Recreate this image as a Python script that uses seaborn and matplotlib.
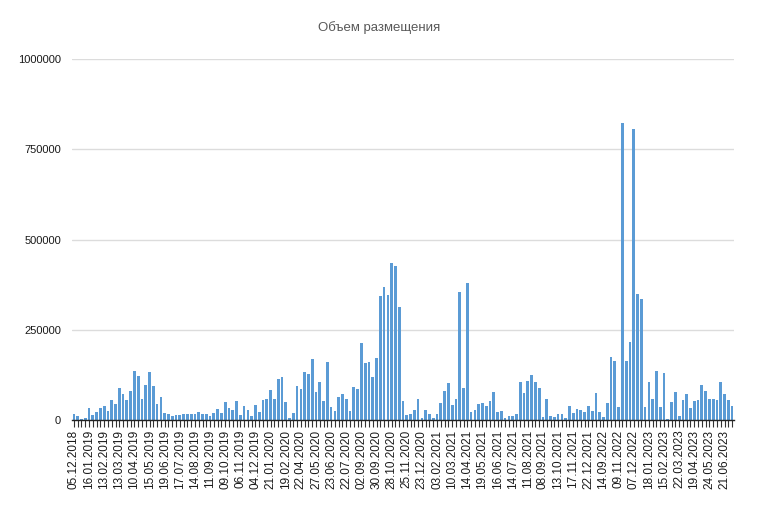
import matplotlib
matplotlib.use("Agg")
import matplotlib.pyplot as plt
import seaborn as sns
import pandas as pd

title = "Объем размещения"

values = [
    17000, 12000, 3000, 5000, 34000, 14000, 22000, 34000, 39000, 25000,
    55000, 43000, 90000, 71000, 55000, 81000, 135000, 121000, 57000, 97000,
    132000, 94000, 43000, 65000, 19000, 17000, 12000, 14000, 14000, 16000,
    16000, 16000, 16000, 22000, 17000, 17000, 11000, 19000, 30000, 19000,
    50000, 33000, 28000, 53000, 14000, 39000, 28000, 11000, 42000, 22000,
    55000, 58000, 83000, 58000, 114000, 119000, 50000, 6000, 19000, 94000,
    85000, 132000, 127000, 168000, 78000, 105000, 53000, 160000, 36000, 25000,
    63000, 71000, 57000, 26000, 91000, 85000, 212000, 157000, 162000, 118000,
    172000, 343000, 369000, 346000, 434000, 427000, 312000, 54000, 15000, 17000,
    28000, 57000, 6000, 28000, 17000, 6000, 17000, 46000, 79000, 103000,
    41000, 57000, 354000, 90000, 380000, 23000, 28000, 43000, 46000, 38000,
    53000, 78000, 23000, 25000, 6000, 12000, 12000, 17000, 105000, 74000,
    108000, 124000, 104000, 90000, 9000, 59000, 12000, 7000, 17000, 17000,
    5000, 38000, 20000, 30000, 28000, 23000, 38000, 25000, 74000, 23000,
    7000, 46000, 174000, 163000, 37000, 822000, 163000, 217000, 806000, 348000,
    336000, 37000, 104000, 59000, 137000, 37000, 131000, 4000, 49000, 78000,
    11000, 56000, 73000, 32000, 52000, 56000, 97000, 80000, 59000, 59000,
    56000, 104000, 73000, 56000, 40000,
]

date_labels = [
    "05.12.2018", "16.01.2019", "13.02.2019", "13.03.2019", "10.04.2019",
    "15.05.2019", "19.06.2019", "17.07.2019", "14.08.2019", "11.09.2019",
    "09.10.2019", "06.11.2019", "04.12.2019", "21.01.2020", "19.02.2020",
    "22.04.2020", "27.05.2020", "23.06.2020", "22.07.2020", "02.09.2020",
    "30.09.2020", "28.10.2020", "25.11.2020", "23.12.2020", "03.02.2021",
    "10.03.2021", "14.04.2021", "19.05.2021", "16.06.2021", "14.07.2021",
    "11.08.2021", "08.09.2021", "13.10.2021", "17.11.2021", "22.12.2021",
    "14.09.2022", "09.11.2022", "07.12.2022", "18.01.2023", "15.02.2023",
    "22.03.2023", "19.04.2023", "24.05.2023", "21.06.2023",
]
label_step = 4

y_ticks = [0, 250000, 500000, 750000, 1000000]
y_tick_labels = ["0", "250000", "500000", "750000", "1000000"]

n = len(values)
df = pd.DataFrame({"idx": list(range(n)), "value": values})

sns.set_theme(style="white")
plt.rcParams["font.family"] = ["Liberation Sans", "DejaVu Sans"]

fig = plt.figure(figsize=(7.58, 5.15), dpi=100)
ax = fig.add_axes([72 / 758, (515 - 420) / 515, (734 - 72) / 758, (420 - 59) / 515])

sns.barplot(data=df, x="idx", y="value", color="#5B9BD5", saturation=1,
            width=0.72, ax=ax, linewidth=0)

ax.set_ylim(0, 1000000)
ax.set_yticks(y_ticks)
ax.set_yticklabels(y_tick_labels, fontsize=8, color="#1a1a1a")
ax.yaxis.grid(True, color="#DCDCDC", linewidth=1)
ax.set_axisbelow(True)

tick_labels = [""] * n
for i, lab in enumerate(date_labels):
    pos = i * label_step
    if pos < n:
        tick_labels[pos] = lab
ax.set_xticks(range(n))
ax.set_xticklabels(tick_labels, rotation=90, fontsize=8.5, color="#1a1a1a")
ax.set_xlim(-0.5, n - 0.5)

ax.tick_params(axis="x", length=5, width=0.8, color="#333333", pad=2, bottom=True)
ax.tick_params(axis="y", length=0, pad=8)

for s in ["top", "right", "left"]:
    ax.spines[s].set_visible(False)
ax.spines["bottom"].set_color("#222222")
ax.spines["bottom"].set_linewidth(1)

ax.set_xlabel("")
ax.set_ylabel("")

fig.text(0.5, 1 - 28 / 515, title, ha="center", va="center",
         fontsize=9.5, color="#595959")

fig.savefig("out.png", dpi=100)
